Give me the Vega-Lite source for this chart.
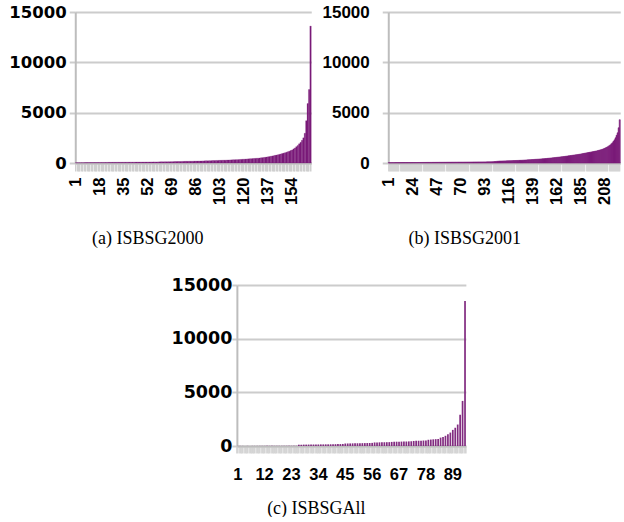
{
"$schema": "https://vega.github.io/schema/vega-lite/v6.json",
"padding": {"left": 8, "top": 3, "right": 0, "bottom": 0},
"background": "white",
"datasets": {
"a": [{"i":1,"v":30},{"i":2,"v":30},{"i":3,"v":32},{"i":4,"v":34},{"i":5,"v":35},{"i":6,"v":36},{"i":7,"v":38},{"i":8,"v":40},{"i":9,"v":40},{"i":10,"v":42},
{"i":11,"v":45},{"i":12,"v":46},{"i":13,"v":48},{"i":14,"v":50},{"i":15,"v":50},{"i":16,"v":52},{"i":17,"v":54},{"i":18,"v":55},{"i":19,"v":56},{"i":20,"v":58},
{"i":21,"v":60},{"i":22,"v":60},{"i":23,"v":62},{"i":24,"v":64},{"i":25,"v":65},{"i":26,"v":66},{"i":27,"v":68},{"i":28,"v":70},{"i":29,"v":70},{"i":30,"v":72},
{"i":31,"v":73},{"i":32,"v":74},{"i":33,"v":75},{"i":34,"v":76},{"i":35,"v":78},{"i":36,"v":80},{"i":37,"v":80},{"i":38,"v":82},{"i":39,"v":83},{"i":40,"v":84},
{"i":41,"v":85},{"i":42,"v":86},{"i":43,"v":88},{"i":44,"v":90},{"i":45,"v":90},{"i":46,"v":92},{"i":47,"v":94},{"i":48,"v":95},{"i":49,"v":96},{"i":50,"v":98},
{"i":51,"v":100},{"i":52,"v":100},{"i":53,"v":102},{"i":54,"v":104},{"i":55,"v":105},{"i":56,"v":106},{"i":57,"v":108},{"i":58,"v":110},{"i":59,"v":110},{"i":60,"v":112},
{"i":61,"v":114},{"i":62,"v":116},{"i":63,"v":118},{"i":64,"v":120},{"i":65,"v":122},{"i":66,"v":124},{"i":67,"v":126},{"i":68,"v":128},{"i":69,"v":130},{"i":70,"v":135},
{"i":71,"v":140},{"i":72,"v":145},{"i":73,"v":150},{"i":74,"v":150},{"i":75,"v":155},{"i":76,"v":160},{"i":77,"v":160},{"i":78,"v":165},{"i":79,"v":170},{"i":80,"v":170},
{"i":81,"v":175},{"i":82,"v":180},{"i":83,"v":180},{"i":84,"v":185},{"i":85,"v":190},{"i":86,"v":190},{"i":87,"v":195},{"i":88,"v":200},{"i":89,"v":200},{"i":90,"v":205},
{"i":91,"v":210},{"i":92,"v":215},{"i":93,"v":220},{"i":94,"v":220},{"i":95,"v":225},{"i":96,"v":230},{"i":97,"v":235},{"i":98,"v":240},{"i":99,"v":245},{"i":100,"v":250},
{"i":101,"v":255},{"i":102,"v":260},{"i":103,"v":265},{"i":104,"v":270},{"i":105,"v":275},{"i":106,"v":280},{"i":107,"v":285},{"i":108,"v":290},
{"i":109,"v":300},{"i":110,"v":305},{"i":111,"v":310},{"i":112,"v":315},{"i":113,"v":320},{"i":114,"v":330},{"i":115,"v":335},{"i":116,"v":340},{"i":117,"v":350},{"i":118,"v":360},{"i":119,"v":370},{"i":120,"v":380},
{"i":121,"v":390},{"i":122,"v":400},{"i":123,"v":410},{"i":124,"v":420},{"i":125,"v":430},{"i":126,"v":440},{"i":127,"v":450},{"i":128,"v":460},{"i":129,"v":470},{"i":130,"v":480},{"i":131,"v":495},
{"i":132,"v":510},{"i":133,"v":530},{"i":134,"v":550},{"i":135,"v":570},{"i":136,"v":590},{"i":137,"v":610},
{"i":138,"v":640},{"i":139,"v":670},{"i":140,"v":700},{"i":141,"v":730},{"i":142,"v":760},{"i":143,"v":790},
{"i":144,"v":820},{"i":145,"v":860},{"i":146,"v":900},{"i":147,"v":940},{"i":148,"v":980},{"i":149,"v":1020},
{"i":150,"v":1070},{"i":151,"v":1120},{"i":152,"v":1170},{"i":153,"v":1230},{"i":154,"v":1300},
{"i":155,"v":1400},{"i":156,"v":1500},{"i":157,"v":1620},
{"i":158,"v":1750},{"i":159,"v":1900},{"i":160,"v":2050},{"i":161,"v":2250},
{"i":162,"v":2500},{"i":163,"v":2950},{"i":164,"v":4200},{"i":165,"v":5900},{"i":166,"v":7300},{"i":167,"v":13600}],
"b": [{"i":1,"v":35},{"i":2,"v":35},{"i":3,"v":36},{"i":4,"v":36},{"i":5,"v":37},{"i":6,"v":37},{"i":7,"v":38},{"i":8,"v":38},{"i":9,"v":39},{"i":10,"v":39},
{"i":11,"v":40},{"i":12,"v":40},{"i":13,"v":41},{"i":14,"v":41},{"i":15,"v":42},{"i":16,"v":42},{"i":17,"v":43},{"i":18,"v":43},{"i":19,"v":44},{"i":20,"v":44},
{"i":21,"v":45},{"i":22,"v":45},{"i":23,"v":46},{"i":24,"v":46},{"i":25,"v":47},{"i":26,"v":47},{"i":27,"v":48},{"i":28,"v":48},{"i":29,"v":49},{"i":30,"v":50},
{"i":31,"v":52},{"i":32,"v":53},{"i":33,"v":54},{"i":34,"v":55},{"i":35,"v":56},{"i":36,"v":57},{"i":37,"v":58},{"i":38,"v":59},{"i":39,"v":60},{"i":40,"v":60},
{"i":41,"v":61},{"i":42,"v":62},{"i":43,"v":63},{"i":44,"v":64},{"i":45,"v":65},{"i":46,"v":66},{"i":47,"v":67},{"i":48,"v":68},{"i":49,"v":69},{"i":50,"v":70},
{"i":51,"v":70},{"i":52,"v":71},{"i":53,"v":72},{"i":54,"v":73},{"i":55,"v":74},{"i":56,"v":75},{"i":57,"v":76},{"i":58,"v":77},{"i":59,"v":78},{"i":60,"v":79},
{"i":61,"v":80},{"i":62,"v":81},{"i":63,"v":82},{"i":64,"v":83},{"i":65,"v":84},{"i":66,"v":85},{"i":67,"v":86},{"i":68,"v":87},{"i":69,"v":88},{"i":70,"v":89},
{"i":71,"v":90},{"i":72,"v":90},{"i":73,"v":91},{"i":74,"v":92},{"i":75,"v":93},{"i":76,"v":94},{"i":77,"v":95},{"i":78,"v":96},{"i":79,"v":97},{"i":80,"v":98},
{"i":81,"v":99},{"i":82,"v":100},{"i":83,"v":100},{"i":84,"v":101},{"i":85,"v":102},{"i":86,"v":103},{"i":87,"v":104},{"i":88,"v":105},{"i":89,"v":106},{"i":90,"v":107},
{"i":91,"v":108},{"i":92,"v":109},{"i":93,"v":110},{"i":94,"v":111},{"i":95,"v":112},{"i":96,"v":113},{"i":97,"v":114},{"i":98,"v":115},{"i":99,"v":117},{"i":100,"v":120},
{"i":101,"v":130},{"i":102,"v":140},{"i":103,"v":150},{"i":104,"v":160},{"i":105,"v":170},{"i":106,"v":180},{"i":107,"v":190},
{"i":108,"v":195},{"i":109,"v":198},{"i":110,"v":201},{"i":111,"v":204},{"i":112,"v":207},{"i":113,"v":210},{"i":114,"v":214},{"i":115,"v":218},{"i":116,"v":222},{"i":117,"v":226},
{"i":118,"v":230},{"i":119,"v":234},{"i":120,"v":238},{"i":121,"v":242},{"i":122,"v":246},{"i":123,"v":250},{"i":124,"v":254},{"i":125,"v":258},{"i":126,"v":262},{"i":127,"v":266},
{"i":128,"v":270},{"i":129,"v":277},{"i":130,"v":284},{"i":131,"v":291},{"i":132,"v":298},{"i":133,"v":305},{"i":134,"v":312},{"i":135,"v":319},{"i":136,"v":326},{"i":137,"v":333},
{"i":138,"v":340},{"i":139,"v":347},{"i":140,"v":354},{"i":141,"v":361},{"i":142,"v":368},{"i":143,"v":375},{"i":144,"v":382},{"i":145,"v":390},{"i":146,"v":398},{"i":147,"v":406},
{"i":148,"v":414},{"i":149,"v":422},
{"i":150,"v":430},{"i":151,"v":440},{"i":152,"v":451},{"i":153,"v":462},{"i":154,"v":473},{"i":155,"v":484},{"i":156,"v":495},{"i":157,"v":506},{"i":158,"v":517},{"i":159,"v":528},
{"i":160,"v":540},{"i":161,"v":552},{"i":162,"v":564},{"i":163,"v":576},{"i":164,"v":588},{"i":165,"v":600},{"i":166,"v":612},{"i":167,"v":624},{"i":168,"v":636},
{"i":169,"v":650},{"i":170,"v":665},{"i":171,"v":680},{"i":172,"v":695},{"i":173,"v":710},{"i":174,"v":725},{"i":175,"v":740},{"i":176,"v":755},{"i":177,"v":770},{"i":178,"v":785},
{"i":179,"v":800},{"i":180,"v":815},{"i":181,"v":830},{"i":182,"v":845},
{"i":183,"v":860},{"i":184,"v":880},{"i":185,"v":900},{"i":186,"v":920},{"i":187,"v":940},{"i":188,"v":960},{"i":189,"v":980},{"i":190,"v":1000},{"i":191,"v":1020},{"i":192,"v":1040},{"i":193,"v":1060},
{"i":194,"v":1080},{"i":195,"v":1100},{"i":196,"v":1120},{"i":197,"v":1140},{"i":198,"v":1160},{"i":199,"v":1180},{"i":200,"v":1200},{"i":201,"v":1230},{"i":202,"v":1260},{"i":203,"v":1290},{"i":204,"v":1320},{"i":205,"v":1350},
{"i":206,"v":1390},{"i":207,"v":1430},{"i":208,"v":1480},{"i":209,"v":1530},{"i":210,"v":1590},{"i":211,"v":1650},{"i":212,"v":1720},
{"i":213,"v":1800},{"i":214,"v":1900},{"i":215,"v":2000},{"i":216,"v":2150},{"i":217,"v":2300},
{"i":218,"v":2500},{"i":219,"v":2750},{"i":220,"v":3000},{"i":221,"v":3500},{"i":222,"v":4300}],
"c": [{"i":1,"v":8},{"i":2,"v":8},{"i":3,"v":9},{"i":4,"v":9},{"i":5,"v":10},{"i":6,"v":10},{"i":7,"v":10},{"i":8,"v":11},{"i":9,"v":11},{"i":10,"v":12},
{"i":11,"v":12},{"i":12,"v":13},{"i":13,"v":13},{"i":14,"v":14},{"i":15,"v":14},{"i":16,"v":15},{"i":17,"v":15},{"i":18,"v":16},{"i":19,"v":16},{"i":20,"v":17},
{"i":21,"v":18},{"i":22,"v":18},{"i":23,"v":19},{"i":24,"v":20},{"i":25,"v":20},
{"i":26,"v":120},{"i":27,"v":125},{"i":28,"v":130},{"i":29,"v":130},{"i":30,"v":135},{"i":31,"v":135},{"i":32,"v":140},{"i":33,"v":140},{"i":34,"v":145},{"i":35,"v":150},
{"i":36,"v":150},{"i":37,"v":155},{"i":38,"v":155},{"i":39,"v":160},{"i":40,"v":165},{"i":41,"v":170},{"i":42,"v":175},{"i":43,"v":180},{"i":44,"v":190},
{"i":45,"v":230},{"i":46,"v":235},{"i":47,"v":240},{"i":48,"v":245},{"i":49,"v":250},{"i":50,"v":255},{"i":51,"v":260},{"i":52,"v":265},{"i":53,"v":270},{"i":54,"v":275},{"i":55,"v":280},{"i":56,"v":290},
{"i":57,"v":330},{"i":58,"v":335},{"i":59,"v":340},{"i":60,"v":345},{"i":61,"v":350},{"i":62,"v":355},{"i":63,"v":360},
{"i":64,"v":380},{"i":65,"v":390},{"i":66,"v":400},{"i":67,"v":405},{"i":68,"v":410},{"i":69,"v":415},{"i":70,"v":420},{"i":71,"v":430},{"i":72,"v":440},
{"i":73,"v":470},{"i":74,"v":480},{"i":75,"v":490},{"i":76,"v":500},{"i":77,"v":510},{"i":78,"v":520},
{"i":79,"v":580},{"i":80,"v":600},{"i":81,"v":620},{"i":82,"v":640},{"i":83,"v":660},
{"i":84,"v":780},{"i":85,"v":850},{"i":86,"v":950},
{"i":87,"v":1100},{"i":88,"v":1250},{"i":89,"v":1500},{"i":90,"v":1700},{"i":91,"v":2000},{"i":92,"v":2900},{"i":93,"v":4200},{"i":94,"v":13500}]
},
"center": true,
"spacing": 29,
"vconcat": [
{
"spacing": 2,
"hconcat": [
{
"width": 236, "height": 151,
"data": {"name": "a"},
"mark": {"type": "bar", "color": "#7b1b79", "stroke": "#7b1b79", "strokeWidth": 0.25},
"encoding": {
"x": {"field": "i", "type": "ordinal",
"scale": {"paddingInner": 0, "paddingOuter": 0},
"axis": {"title": "(a) ISBSG2000", "titleX": 72, "titleY": 80, "titleFont": "Liberation Serif", "titleFontSize": 18, "titleFontWeight": "normal", "titleBaseline": "alphabetic", "titleAlign": "center",
"labelAngle": -90, "labelExpr": "(datum.value - 1) % 17 == 0 ? datum.label : ''", "labelOverlap": false, "labelFont": "Liberation Sans", "labelFontWeight": "bold", "labelFontSize": 16.5, "labelPadding": 6,
"tickSize": 8, "tickWidth": 1.5, "tickColor": "#cfcfcf", "domainColor": "#bdbdbd", "domainWidth": 2}},
"y": {"field": "v", "type": "quantitative", "scale": {"domain": [0, 15000], "nice": false},
"axis": {"values": [0, 5000, 10000, 15000], "format": "d", "title": null, "labelFont": "DejaVu Sans", "labelFontWeight": "bold", "labelFontSize": 16.5, "tickSize": 6, "labelPadding": 3,
"gridColor": "#cccccc", "gridWidth": 2, "tickColor": "#cccccc", "tickWidth": 2, "domainColor": "#bdbdbd", "domainWidth": 2}}
}
},
{
"width": 232, "height": 151,
"data": {"name": "b"},
"mark": {"type": "bar", "color": "#7b1b79", "stroke": "#7b1b79", "strokeWidth": 0.6},
"encoding": {
"x": {"field": "i", "type": "ordinal",
"scale": {"paddingInner": 0, "paddingOuter": 0},
"axis": {"title": "(b) ISBSG2001", "titleX": 76, "titleY": 80, "titleFont": "Liberation Serif", "titleFontSize": 18, "titleFontWeight": "normal", "titleBaseline": "alphabetic", "titleAlign": "center",
"labelAngle": -90, "labelExpr": "(datum.value - 1) % 23 == 0 ? datum.label : ''", "labelOverlap": false, "labelFont": "Liberation Sans", "labelFontWeight": "bold", "labelFontSize": 16.5, "labelPadding": 6,
"tickSize": 8, "tickWidth": 1.2, "tickColor": "#cfcfcf", "domainColor": "#bdbdbd", "domainWidth": 2}},
"y": {"field": "v", "type": "quantitative", "scale": {"domain": [0, 15000], "nice": false},
"axis": {"values": [0, 5000, 10000, 15000], "format": "d", "title": null, "labelFont": "Liberation Sans", "labelFontWeight": "bold", "labelFontSize": 17, "tickSize": 6, "labelPadding": 13,
"gridColor": "#cccccc", "gridWidth": 2, "tickColor": "#cccccc", "tickWidth": 2, "domainColor": "#bdbdbd", "domainWidth": 2}}
}
}
]
},
{
"width": 229, "height": 161,
"data": {"name": "c"},
"mark": {"type": "bar", "color": "#822c80"},
"encoding": {
"x": {"field": "i", "type": "ordinal",
"scale": {"paddingInner": 0.3, "paddingOuter": 0},
"axis": {"title": "(c) ISBSGAll", "titleX": 79, "titleY": 67, "titleFont": "Liberation Serif", "titleFontSize": 18, "titleFontWeight": "normal", "titleBaseline": "alphabetic", "titleAlign": "center",
"labelAngle": 0, "labelExpr": "(datum.value - 1) % 11 == 0 ? datum.label : ''", "labelOverlap": false, "labelFont": "Liberation Sans", "labelFontWeight": "bold", "labelFontSize": 16.5, "labelPadding": 13,
"tickSize": 7, "tickWidth": 2.5, "tickColor": "#d4d4d4", "domainColor": "#bdbdbd", "domainWidth": 2}},
"y": {"field": "v", "type": "quantitative", "scale": {"domain": [0, 15000], "nice": false},
"axis": {"values": [0, 5000, 10000, 15000], "format": "d", "title": null, "labelFont": "DejaVu Sans", "labelFontWeight": "bold", "labelFontSize": 17.5, "tickSize": 5, "labelPadding": 0,
"gridColor": "#cccccc", "gridWidth": 2, "tickColor": "#cccccc", "tickWidth": 2, "domainColor": "#bdbdbd", "domainWidth": 2}}
}
}
],
"config": {
"view": {"stroke": null},
"axis": {"labelColor": "#000000", "titleColor": "#000000"}
}
}
